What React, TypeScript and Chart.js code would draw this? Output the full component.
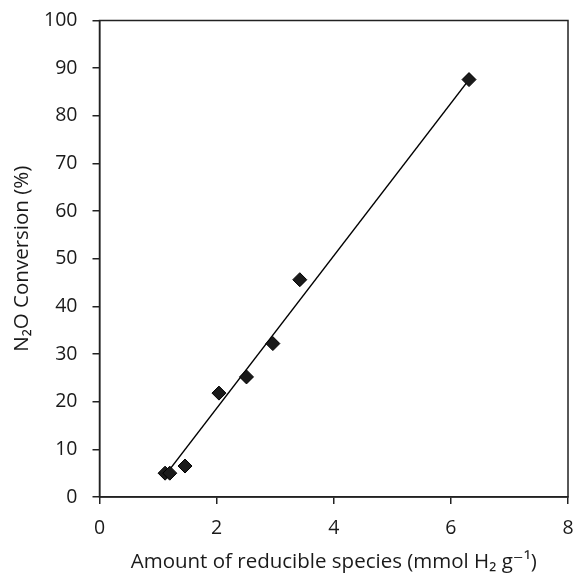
import React, { useEffect, useRef } from "react";
import { Chart, registerables } from "chart.js";

Chart.register(...registerables);

const xValues = [1.12, 1.2, 1.46, 2.04, 2.51, 2.96, 3.42, 6.31];
const yValues = [5.0, 5.0, 6.5, 21.8, 25.2, 32.2, 45.6, 87.6];
const trendX = [1.2, 6.31];
const trendY = [5.8, 87.6];
const xTicks = [0, 2, 4, 6, 8];
const yTicks = [0, 10, 20, 30, 40, 50, 60, 70, 80, 90, 100];
const xTitle = "Amount of reducible species (mmol H\u2082 g\u207B\u00B9)";
const yTitle = "N\u2082O Conversion (%)";

const FONT = "'Open Sans', 'DejaVu Sans', sans-serif";

const frame = {
  id: "frame",
  afterDraw(chart: any) {
    const { ctx, chartArea } = chart;
    ctx.save();
    ctx.strokeStyle = "#222";
    ctx.lineWidth = 1.5;
    ctx.strokeRect(chartArea.left, chartArea.top, chartArea.right - chartArea.left, chartArea.bottom - chartArea.top);
    ctx.restore();
  },
};

export default function App() {
  const ref = useRef<HTMLCanvasElement>(null);
  useEffect(() => {
    const chart = new Chart(ref.current!, {
      type: "scatter",
      data: {
        datasets: [
          {
            data: xValues.map((x, i) => ({ x, y: yValues[i] })),
            pointStyle: "rectRot",
            pointRadius: 7,
            backgroundColor: "#1a1a1a",
            borderColor: "#000",
            borderWidth: 1,
            showLine: false,
            order: 1,
          },
          {
            data: trendX.map((x, i) => ({ x, y: trendY[i] })),
            showLine: true,
            pointRadius: 0,
            borderColor: "#000",
            borderWidth: 1.5,
            order: 2,
          },
        ],
      },
      options: {
        animation: false,
        responsive: false,
        maintainAspectRatio: false,
        layout: { padding: { top: 20.5, right: 8, left: 0, bottom: 0 } },
        plugins: { legend: { display: false }, tooltip: { enabled: false } },
        scales: {
          x: {
            type: "linear",
            min: 0,
            max: 8,
            afterBuildTicks: (s: any) => { s.ticks = xTicks.map((v) => ({ value: v })); },
            afterFit: (s: any) => { s.height = 77; s.paddingLeft = 0; s.paddingRight = 0; },
            grid: { drawOnChartArea: false, tickLength: 7, color: "#222", lineWidth: 1.5 },
            border: { color: "#222", width: 1.5 },
            ticks: { color: "#1a1a1a", font: { family: FONT, size: 19.5 }, padding: 13 },
            title: { display: true, text: xTitle, color: "#1a1a1a", font: { family: FONT, size: 20.5 }, padding: { top: 2, bottom: 0 } },
          },
          y: {
            type: "linear",
            min: 0,
            max: 100,
            afterBuildTicks: (s: any) => { s.ticks = yTicks.map((v) => ({ value: v })); },
            afterFit: (s: any) => { s.width = 99.5; s.paddingTop = 0; s.paddingBottom = 0; },
            grid: { drawOnChartArea: false, tickLength: 7, color: "#222", lineWidth: 1.5 },
            border: { color: "#222", width: 1.5 },
            ticks: { color: "#1a1a1a", font: { family: FONT, size: 19.5 }, padding: 15 },
            title: { display: true, text: yTitle, color: "#1a1a1a", font: { family: FONT, size: 20.5 }, padding: { top: 10, bottom: 0 } },
          },
        },
      },
      plugins: [frame],
    });
    return () => chart.destroy();
  }, []);
  return (
    <div style={{ position: "fixed", left: 0, top: 0, width: 576, height: 574, background: "#fff" }}>
      <canvas ref={ref} width={576} height={574} style={{ width: 576, height: 574 }} />
    </div>
  );
}
